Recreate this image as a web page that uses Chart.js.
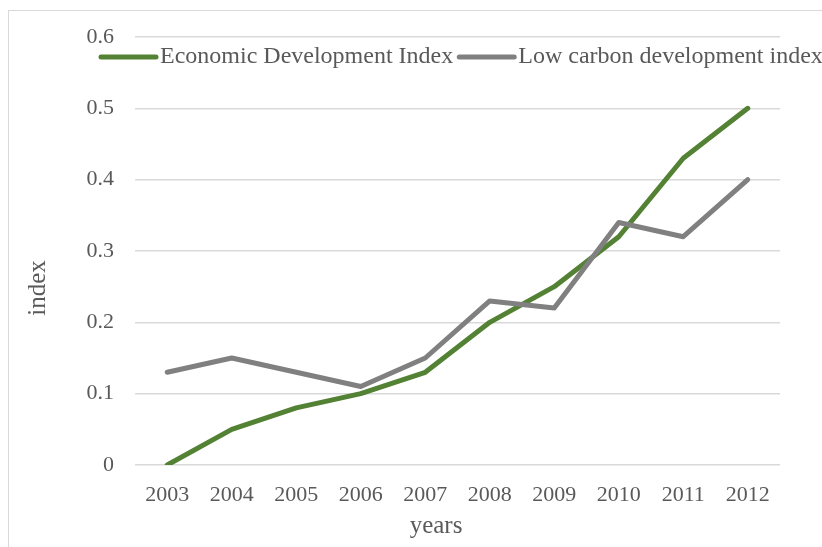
<!DOCTYPE html>
<html lang="en">
<head>
    <meta charset="UTF-8">
    <title>Economic vs Low carbon development index</title>
    <script src="https://cdn.jsdelivr.net/npm/chart.js"></script>
    <style>
        html, body { margin: 0; padding: 0; background: #fff; overflow: hidden; }
        #wrap { position: relative; width: 822px; height: 547px; }
        #frame { position: absolute; left: 8px; top: 10px; width: 840px; height: 560px; border: 1.5px solid #d9d9d9; box-sizing: border-box; }
        #chart { position: absolute; left: 0; top: 0; }
    </style>
</head>
<body>
    <div id="wrap">
        <div id="frame"></div>
        <canvas id="chart" width="822" height="547"></canvas>
    </div>

    <script>
        // Data
        const years = ['2003', '2004', '2005', '2006', '2007', '2008', '2009', '2010', '2011', '2012'];
        const economicIndex = [0, 0.05, 0.08, 0.10, 0.13, 0.20, 0.25, 0.32, 0.43, 0.50];
        const lowCarbonIndex = [0.13, 0.15, 0.13, 0.11, 0.15, 0.23, 0.22, 0.34, 0.32, 0.40];
        const seriesNames = ['Economic Development Index', 'Low carbon development index'];
        const seriesColors = ['#548235', '#808080'];
        const xTitle = 'years';
        const yTitle = 'index';

        const FONT = 'Liberation Serif, Times New Roman, serif';
        const TEXT = '#595959';

        // legend inside the plot (between 0.6 and 0.5) and the two axis titles
        const extras = {
            id: 'extras',
            afterDraw(chart) {
                const ctx = chart.ctx;
                ctx.save();
                ctx.textBaseline = 'middle';

                const y = 57;
                let x = 101;
                ctx.font = '24px ' + FONT;
                seriesNames.forEach((name, i) => {
                    ctx.strokeStyle = seriesColors[i];
                    ctx.lineWidth = 5;
                    ctx.lineCap = 'round';
                    ctx.beginPath();
                    ctx.moveTo(x, y);
                    ctx.lineTo(x + 55, y);
                    ctx.stroke();
                    ctx.fillStyle = TEXT;
                    ctx.textAlign = 'left';
                    ctx.fillText(name, x + 59, y);
                    x += 59 + ctx.measureText(name).width + 6;
                });

                ctx.font = '25px ' + FONT;
                ctx.fillStyle = TEXT;
                ctx.textAlign = 'center';
                ctx.fillText(xTitle, 436, 526);

                ctx.translate(38, 288);
                ctx.rotate(-Math.PI / 2);
                ctx.fillText(yTitle, 0, 0);
                ctx.restore();
            }
        };

        new Chart(document.getElementById('chart'), {
            type: 'line',
            data: {
                labels: years,
                datasets: [{
                    label: seriesNames[0],
                    data: economicIndex,
                    borderColor: seriesColors[0],
                    order: 2
                }, {
                    label: seriesNames[1],
                    data: lowCarbonIndex,
                    borderColor: seriesColors[1],
                    order: 1
                }]
            },
            options: {
                responsive: false,
                animation: false,
                devicePixelRatio: 1,
                layout: { padding: { left: 0, right: 42, top: 37, bottom: 0 } },
                elements: {
                    line: { borderWidth: 5, tension: 0, borderCapStyle: 'round', borderJoinStyle: 'round' },
                    point: { radius: 0 }
                },
                plugins: {
                    legend: { display: false },
                    tooltip: { enabled: false }
                },
                scales: {
                    x: {
                        offset: true,
                        grid: { display: false },
                        border: { display: false },
                        ticks: { color: TEXT, font: { family: FONT, size: 22 }, padding: 9, maxRotation: 0 },
                        afterFit(scale) { scale.height = 82; }
                    },
                    y: {
                        min: 0,
                        max: 0.6,
                        grid: { color: '#d9d9d9', lineWidth: 1.5, drawTicks: false },
                        border: { display: false },
                        ticks: {
                            stepSize: 0.1,
                            color: TEXT,
                            font: { family: FONT, size: 22 },
                            padding: 21,
                            callback: v => String(+v.toFixed(1))
                        },
                        afterFit(scale) { scale.width = 135; }
                    }
                }
            },
            plugins: [extras]
        });
    </script>
</body>
</html>
